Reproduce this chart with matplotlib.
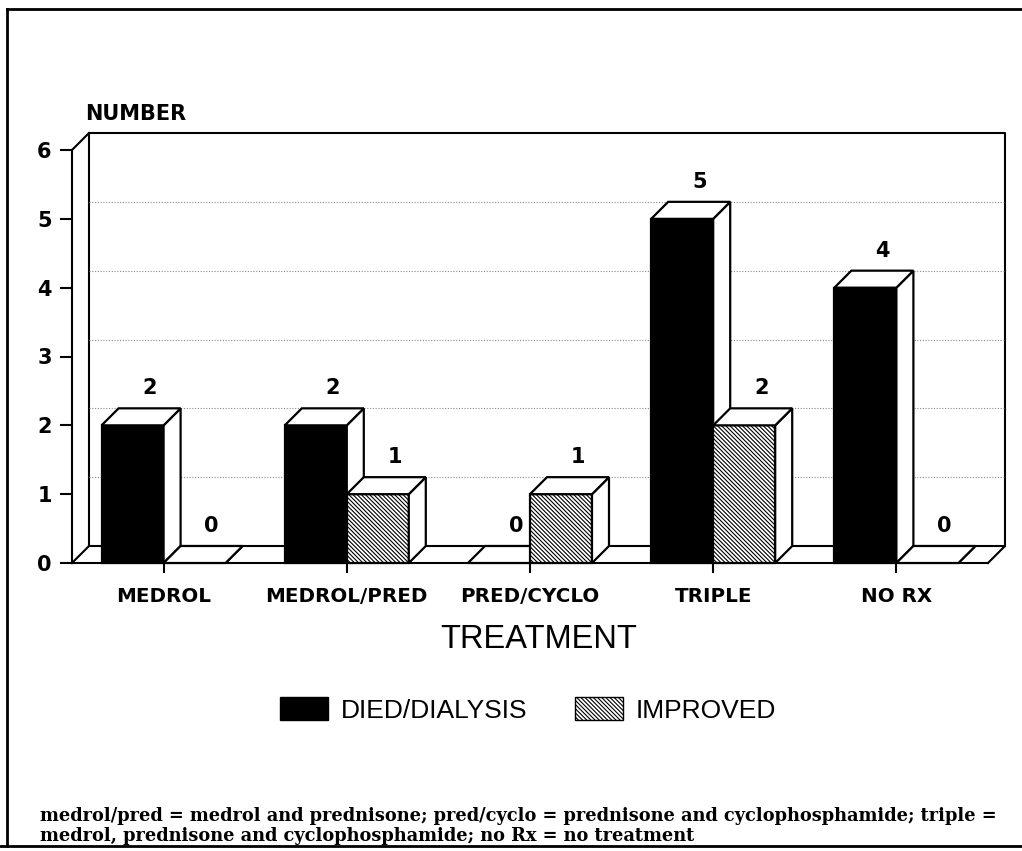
import matplotlib
matplotlib.use("Agg")
import matplotlib.pyplot as plt
from matplotlib.patches import Polygon, Patch
from matplotlib.lines import Line2D

# Patients par traitement et par issue
categories = ["MEDROL", "MEDROL/PRED", "PRED/CYCLO", "TRIPLE", "NO RX"]
died_dialysis = [2, 2, 0, 5, 4]
improved = [0, 1, 1, 2, 0]
series_names = ["DIED/DIALYSIS", "IMPROVED"]
yticks = [0, 1, 2, 3, 4, 5, 6]

footnote = ("medrol/pred = medrol and prednisone; pred/cyclo = prednisone and cyclophosphamide; triple =\n"
            "medrol, prednisone and cyclophosphamide; no Rx = no treatment")

plt.rcParams["hatch.linewidth"] = 0.8
HATCH = "\\" * 8

W, H = 1022, 851
fig = plt.figure(figsize=(W / 100, H / 100), dpi=100)
ax_box = [72 / W, 1 - 563 / H, 916 / W, 413 / H]
ax = fig.add_axes(ax_box)
ax.patch.set_visible(False)
ax.set_xlim(-0.5, 4.5)
ax.set_ylim(0, 6)

# profondeur de l'effet 3D, en unités de données
depth_px = 17
dx = depth_px / (ax_box[2] * W / 5)
dy = depth_px / (ax_box[3] * H / 6)
bar_w = 62 / (ax_box[2] * W / 5)

x_lo, x_hi = -0.5, 4.5

# mur du fond + sol
wall = dict(color="black", lw=1.5, clip_on=False, zorder=1)
ax.plot([x_lo + dx, x_lo + dx, x_hi + dx, x_hi + dx], [dy, 6 + dy, 6 + dy, dy], **wall)
ax.plot([x_lo, x_lo + dx], [6, 6 + dy], **wall)
ax.plot([x_lo, x_lo + dx, x_hi + dx, x_hi], [0, dy, dy, 0], **wall)
ax.hlines([v + dy for v in yticks[1:-1]], x_lo + dx, x_hi + dx, colors="#8a8a8a",
          linestyles=(0, (1, 1.5)), lw=0.8, clip_on=False, zorder=1)


def draw_box(x0, x1, h, face, hatch, z):
    kw = dict(edgecolor="black", lw=1.6, clip_on=False, zorder=z)
    if h > 0:
        ax.add_patch(Polygon([(x0, 0), (x1, 0), (x1, h), (x0, h)],
                             facecolor=face, hatch=hatch, **kw))
    ax.add_patch(Polygon([(x1, 0), (x1 + dx, dy), (x1 + dx, h + dy), (x1, h)],
                         facecolor="white", **kw))
    ax.add_patch(Polygon([(x0, h), (x1, h), (x1 + dx, h + dy), (x0 + dx, h + dy)],
                         facecolor="white", **kw))


val_font = dict(family="DejaVu Sans", weight="bold", size=15)
z = 3
for i, (d, m) in enumerate(zip(died_dialysis, improved)):
    for x0, v, face, hatch in [(i - bar_w, d, "black", None), (i, m, "white", HATCH)]:
        draw_box(x0, x0 + bar_w, v, face, hatch, z)
        z += 1
        ax.text(x0 + bar_w / 2 + dx, v + dy + 0.29, str(v), ha="center", va="center",
                clip_on=False, zorder=20, **val_font)

for s in ["top", "right"]:
    ax.spines[s].set_visible(False)
for s in ["left", "bottom"]:
    ax.spines[s].set_linewidth(1.5)
    ax.spines[s].set_zorder(2)

ax.set_xticks(range(len(categories)))
ax.set_xticklabels(categories, fontfamily="DejaVu Sans", fontweight="bold", fontsize=14.3)
ax.set_yticks(yticks)
ax.set_yticklabels([str(v) for v in yticks], fontfamily="DejaVu Sans", fontweight="bold", fontsize=15)
ax.tick_params(axis="x", length=7, width=1.5, pad=10)
ax.tick_params(axis="y", length=8.6, width=1.5, pad=6)

fig.text(85 / W, 1 - 120 / H, "NUMBER", ha="left", va="baseline",
         family="DejaVu Sans", weight="bold", size=15)
fig.text(539 / W, 1 - 640 / H, "TREATMENT", ha="center", va="center",
         family="Liberation Sans", size=23.5)

handles = [Patch(facecolor="black", edgecolor="black", lw=1),
           Patch(facecolor="white", edgecolor="black", hatch=HATCH, lw=1)]
fig.legend(handles, series_names, loc="center", bbox_to_anchor=(528 / W, 1 - 710 / H),
           ncol=2, frameon=False, prop=dict(family="Liberation Sans", size=19),
           handlelength=1.82, handleheight=0.91, handletextpad=0.49,
           columnspacing=1.78, borderpad=0, borderaxespad=0)

fig.text(40 / W, 1 - 826 / H, footnote, ha="left", va="center", linespacing=1.12,
         family="DejaVu Serif", weight="bold", size=12.75)

# cadre de la figure
frame = dict(color="black", lw=2, transform=fig.transFigure)
fig.add_artist(Line2D([7 / W, 7 / W], [1 - 9 / H, 1 - 846 / H], **frame))
fig.add_artist(Line2D([7 / W, 1], [1 - 9 / H, 1 - 9 / H], **frame))
fig.add_artist(Line2D([0, 1], [1 - 846 / H, 1 - 846 / H], **frame))

fig.savefig("out.png", dpi=100, facecolor="white")
